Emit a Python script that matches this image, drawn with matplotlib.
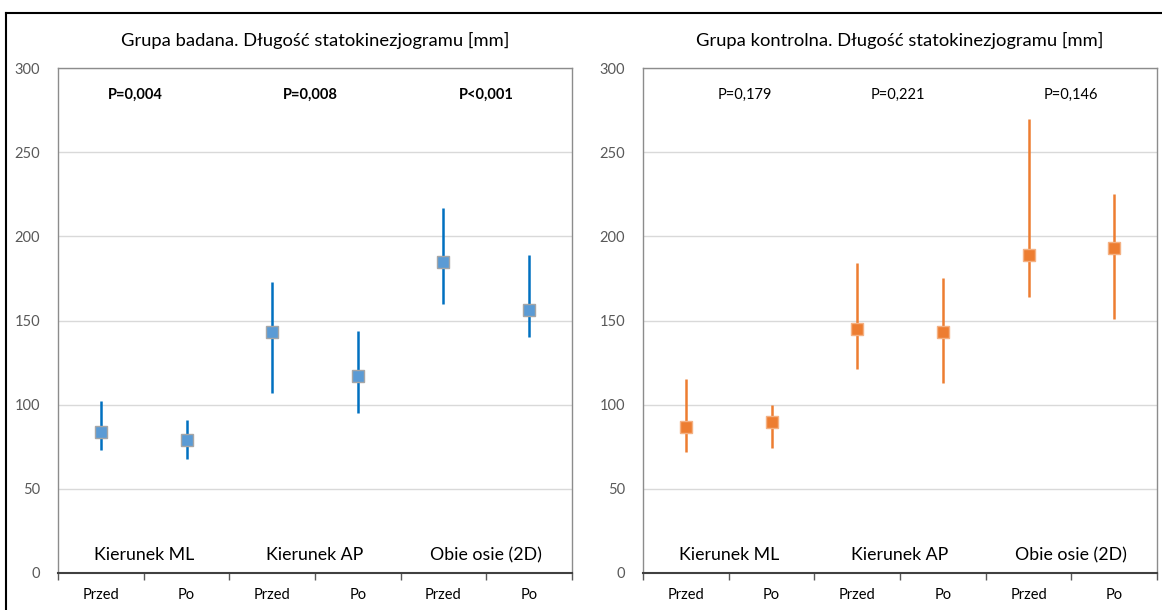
import matplotlib.pyplot as plt
import numpy as np
from matplotlib.lines import Line2D

plt.rcParams['font.family'] = ['Lato', 'DejaVu Sans']

# data
conditions = ['Przed', 'Po', 'Przed', 'Po', 'Przed', 'Po']
groups = ['Kierunek ML', 'Kierunek AP', 'Obie osie (2D)']

badana_mean = [84, 79, 143, 117, 185, 156]
badana_low = [73, 68, 107, 95, 160, 140]
badana_high = [102, 91, 173, 144, 217, 189]
badana_p = ['P=0,004', 'P=0,008', 'P<0,001']

kontrol_mean = [87, 90, 145, 143, 189, 193]
kontrol_low = [72, 74, 121, 113, 164, 151]
kontrol_high = [115, 100, 184, 175, 270, 225]
kontrol_p = ['P=0,179', 'P=0,221', 'P=0,146']

W, H = 1162, 610
fig = plt.figure(figsize=(W / 100, H / 100), dpi=100)


def panel(left, title, mean, low, high, pvals, p_bold, p_shift, line_c, face_c, edge_c):
    ax = fig.add_axes([left / W, (H - 573) / H, 514 / W, 505 / H])
    x = np.arange(len(mean))
    mean = np.array(mean)
    yerr = [mean - np.array(low), np.array(high) - mean]
    ax.errorbar(x, mean, yerr=yerr, fmt='none', ecolor=line_c, elinewidth=1.8, capsize=0, zorder=3)
    ax.plot(x, mean, 's', ms=8, mfc=face_c, mec=edge_c, mew=1.0, zorder=4)

    ax.set_xlim(-0.5, len(mean) - 0.5)
    ax.set_ylim(0, 300)
    ax.set_yticks(range(0, 301, 50))
    ax.yaxis.grid(True, color='#D9D9D9', lw=1.0)
    ax.set_axisbelow(True)
    ax.tick_params(axis='y', length=0, pad=13, labelsize=10.5, labelcolor='#595959')

    ax.set_xticks(x)
    ax.set_xticklabels(conditions)
    ax.set_xticks(np.arange(-0.5, len(mean), 1), minor=True)
    ax.tick_params(axis='x', which='major', length=0, pad=11, labelsize=10.5, labelcolor='#000000')
    ax.tick_params(axis='x', which='minor', length=5, width=1, color='#595959')

    for s in ['top', 'left', 'right']:
        ax.spines[s].set_color('#8C8C8C')
        ax.spines[s].set_linewidth(1.0)
    ax.spines['bottom'].set_color('#404040')
    ax.spines['bottom'].set_linewidth(1.5)

    for i, g in enumerate(groups):
        ax.text(2 * i + 0.5, 10.5, g, ha='center', va='center', fontsize=12.8)
        ax.text(2 * i + 0.5 + p_shift[i], 284, pvals[i], ha='center', va='center',
                fontsize=10.5, fontweight='bold' if p_bold else 'normal')

    fig.text((left + 257) / W, 1 - 40 / H, title, ha='center', va='center', fontsize=13.2)
    return ax


panel(58, 'Grupa badana. Długość statokinezjogramu [mm]', badana_mean, badana_low, badana_high,
      badana_p, True, [-0.1, -0.05, 0.0], '#0070C0', '#5B9BD5', '#A6A6A6')
panel(643, 'Grupa kontrolna. Długość statokinezjogramu [mm]', kontrol_mean, kontrol_low, kontrol_high,
      kontrol_p, False, [0.19, -0.02, -0.01], '#ED7D31', '#ED7D31', '#F4B183')

# outer border (top and left edges visible)
fig.add_artist(Line2D([6 / W, 1], [1 - 12.5 / H, 1 - 12.5 / H], color='black', lw=1.5))
fig.add_artist(Line2D([6 / W, 6 / W], [0, 1 - 12.5 / H], color='black', lw=1.5))

fig.savefig('out.png', dpi=100)
